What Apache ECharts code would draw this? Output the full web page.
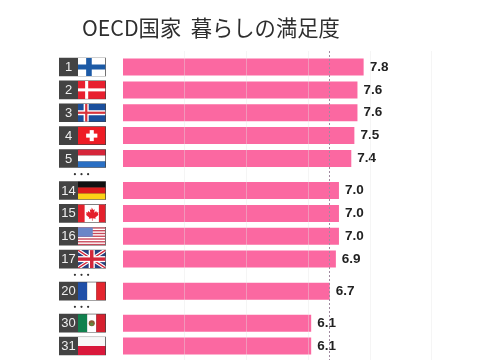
<!DOCTYPE html>
<html><head><meta charset="utf-8">
<style>html,body{margin:0;padding:0;background:#fff}#c{width:485px;height:360px}</style>
<script src="https://cdn.jsdelivr.net/npm/echarts@6/dist/echarts.min.js"></script>
</head><body><div id="c"></div>
<script>
const titleText = 'OECD国家  暮らしの満足度';
const ranks = [1, 2, 3, 4, 5, 14, 15, 16, 17, 20, 30, 31];
const countries = ['fi', 'dk', 'is', 'ch', 'nl', 'de', 'ca', 'us', 'gb', 'fr', 'mx', 'pl'];
const scores = [7.8, 7.6, 7.6, 7.5, 7.4, 7.0, 7.0, 7.0, 6.9, 6.7, 6.1, 6.1];
const averageMark = 6.7;

const svg = (b) => 'data:image/svg+xml;utf8,' + encodeURIComponent(
  '<svg xmlns="http://www.w3.org/2000/svg" viewBox="0 0 27 18" width="27" height="18" preserveAspectRatio="none">' + b + '</svg>');
const r = (x, y, w, h, c) => `<rect x="${x}" y="${y}" width="${w}" height="${h}" fill="${c}"/>`;
let usStripes = '';
for (let i = 0; i < 7; i++) usStripes += r(0, i * 2.77, 27, 1.38, '#c8485a');
const flags = {
  fi: svg(r(0,0,27,18,'#fff') + r(8,0,5.5,18,'#1c5aa6') + r(0,6.5,27,5,'#1c5aa6')),
  dk: svg(r(0,0,27,18,'#e8202f') + r(7,0,3,18,'#fff') + r(0,7.5,27,3,'#fff')),
  is: svg(r(0,0,27,18,'#1b4f9c') + r(5.5,0,5,18,'#fff') + r(0,6.5,27,5,'#fff') + r(7,0,2.2,18,'#d8343c') + r(0,7.9,27,2.2,'#d8343c')),
  ch: svg(r(0,0,27,18,'#ee1c25') + r(11.5,3.5,4,11,'#fff') + r(8,7,11,4,'#fff')),
  nl: svg(r(0,0,27,6,'#d6263a') + r(0,6,27,6,'#fff') + r(0,12,27,6,'#2a6fc4')),
  de: svg(r(0,0,27,6,'#111') + r(0,6,27,6,'#dd1c1c') + r(0,12,27,6,'#fcd116')),
  ca: svg(r(0,0,27,18,'#fff') + r(0,0,6.5,18,'#e4202c') + r(20.5,0,6.5,18,'#e4202c') + '<path d="M13.5 3l1.4 2.6 1.5-.7-.5 3.4 2-1.6.5 1.3 1.7-.2-.6 2 .8.6-3.3 2.6.4 1.3-3.1-.4v2.4h-.6v-2.4l-3.1.4.4-1.3-3.3-2.6.8-.6-.6-2 1.7.2.5-1.3 2 1.6-.5-3.4 1.5.7z" fill="#e4202c"/>'),
  us: svg(r(0,0,27,18,'#fff') + usStripes + r(0,0,14.5,9.5,'#6a86c8')),
  gb: svg(r(0,0,27,18,'#27407f') + '<path d="M0 0L27 18M27 0L0 18" stroke="#fff" stroke-width="3.6"/><path d="M0 0L27 18M27 0L0 18" stroke="#d3263a" stroke-width="1.3"/>' + r(10.5,0,6,18,'#fff') + r(0,6,27,6,'#fff') + r(11.8,0,3.4,18,'#d3263a') + r(0,7.3,27,3.4,'#d3263a')),
  fr: svg(r(0,0,9,18,'#1f4fa8') + r(9,0,9,18,'#fff') + r(18,0,9,18,'#e4262f')),
  mx: svg(r(0,0,9,18,'#11814e') + r(9,0,9,18,'#fff') + r(18,0,9,18,'#d6202f') + '<circle cx="13.5" cy="9" r="3" fill="#8a5a33"/><circle cx="13.5" cy="10" r="1.6" fill="#5f8a3c"/>'),
  pl: svg(r(0,0,27,9,'#f8f8f8') + r(0,9,27,9,'#d9183b'))
};

/* A row takes five slots of the category axis, a "..." break adds two more. */
const ROW = 5, BREAK = 2, LEAD = 3, TRAIL = 6;
const slots = [], slotScores = [], rowCells = [], dotCells = [];
for (let i = 0; i < LEAD; i++) { slots.push('lead' + i); slotScores.push(null); }
ranks.forEach((rank, i) => {
  if (i > 0 && rank !== ranks[i - 1] + 1) {
    dotCells.push([0, slots.length - 2]);
    for (let k = 0; k < BREAK; k++) { slots.push('gap' + i + k); slotScores.push(null); }
  }
  rowCells.push([0, slots.length, rank, countries[i]]);
  slots.push('rank' + rank); slotScores.push(scores[i]);
  for (let k = 1; k < ROW; k++) { slots.push('pad' + i + k); slotScores.push(null); }
});
for (let i = 0; i < TRAIL; i++) { slots.push('tail' + i); slotScores.push(null); }

const slotH = 4.574;
const gridLines = [2, 4, 6, 8, 10];

const chart = echarts.init(document.getElementById('c'), null, { renderer: 'canvas' });
chart.setOption({
  animation: false,
  backgroundColor: '#fff',
  title: {
    text: titleText, left: 77, top: 12,
    textStyle: { fontFamily: '"Noto Sans CJK JP","Noto Sans",sans-serif', fontSize: 21.3, fontWeight: 'normal', color: '#2e2e2e' }
  },
  grid: { left: 123, top: 51, width: 308.5, height: slots.length * slotH, containLabel: false, outerBoundsMode: 'none' },
  xAxis: {
    type: 'value', min: 0, max: 10, interval: 2,
    axisLabel: { show: false }, axisLine: { show: false }, axisTick: { show: false },
    splitLine: { show: false }
  },
  yAxis: {
    type: 'category', data: slots, inverse: true,
    axisLabel: { show: false }, axisLine: { show: false }, axisTick: { show: false }, splitLine: { show: false }
  },
  series: [
    {
      type: 'bar', data: slotScores, barWidth: 17, barGap: '-100%', clip: false, z: 2,
      itemStyle: { color: '#fb68a1' },
      label: {
        show: true, position: 'right', distance: 6,
        formatter: (p) => p.value == null ? '' : p.value.toFixed(1),
        fontFamily: '"Liberation Sans",Arial,sans-serif', fontWeight: 'bold', fontSize: 13.5, color: '#222'
      },
      markLine: {
        silent: true, symbol: 'none', animation: false, label: { show: false }, z: 3,
        data: [
          ...gridLines.map((v) => ({ xAxis: v, lineStyle: { color: 'rgba(228,228,228,0.38)', width: 1, type: 'solid' } })),
          { xAxis: averageMark, lineStyle: { color: '#a08aa0', width: 1, type: [2, 2] } }
        ]
      }
    },
    {
      type: 'custom', coordinateSystem: 'cartesian2d', silent: true, clip: false, z: 4,
      encode: { x: 0, y: 1 }, data: rowCells,
      renderItem: (params, api) => {
        const c = api.coord([0, api.value(1)]);
        const cell = rowCells[params.dataIndex];
        const x0 = c[0] - 64, y0 = c[1] - 9.3;
        return { type: 'group', children: [
          { type: 'rect', shape: { x: x0, y: y0, width: 47, height: 18.6 }, style: { fill: '#434343' } },
          { type: 'text', style: { text: String(cell[2]), x: x0 + 9.5, y: c[1] + 0.5, align: 'center', verticalAlign: 'middle',
              fill: '#eeeeee', font: '13px "Liberation Sans",Arial,sans-serif' } },
          { type: 'image', style: { image: flags[cell[3]], x: x0 + 19, y: y0 + 0.3, width: 27.5, height: 18 } }
        ] };
      }
    },
    {
      type: 'custom', coordinateSystem: 'cartesian2d', silent: true, clip: false, z: 4,
      encode: { x: 0, y: 1 }, data: dotCells,
      renderItem: (params, api) => {
        const c = api.coord([0, api.value(1)]);
        return { type: 'group', children: [-6.6, 0, 6.6].map((dx) => (
          { type: 'circle', shape: { cx: c[0] - 41.5 + dx, cy: c[1] + 2, r: 1.1 }, style: { fill: '#333' } }
        )) };
      }
    }
  ]
});
</script></body></html>
